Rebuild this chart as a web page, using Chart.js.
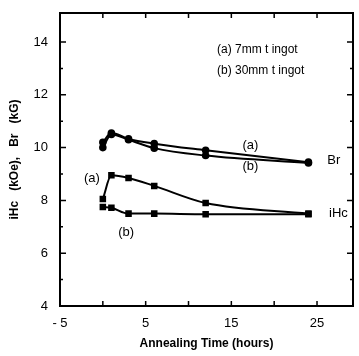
<!DOCTYPE html>
<html>
<head>
<meta charset="utf-8">
<script src="https://cdn.jsdelivr.net/npm/chart.js@4"></script>
<style>
  html, body { margin: 0; padding: 0; background: #fff; }
  #wrap { width: 359px; height: 356px; }
</style>
</head>
<body>
<div id="wrap"><canvas id="chart"></canvas></div>
<script>
const hours = [0, 1, 3, 6, 12, 24];
const brA = [10.2, 10.55, 10.33, 10.15, 9.9, 9.45];
const brB = [10.0, 10.5, 10.3, 9.98, 9.7, 9.42];
const ihcA = [8.05, 8.95, 8.85, 8.55, 7.9, 7.5];
const ihcB = [7.75, 7.72, 7.5, 7.5, 7.48, 7.48];
const xTicks = [-5, 5, 15, 25];
const yTicks = [4, 6, 8, 10, 12, 14];

function pts(ys) {
    return hours.map((h, i) => ({ x: h, y: ys[i] }));
}

function series(ys, shape) {
    return {
        data: pts(ys),
        borderColor: '#000',
        backgroundColor: '#000',
        borderWidth: 2,
        pointStyle: shape,
        pointRadius: shape === 'rect' ? 3.2 : 2.8,
        tension: 0.3,
        cubicInterpolationMode: 'monotone',
        fill: false,
    };
}

const font = "'Liberation Sans', Arial, sans-serif";

// box, inward ticks and the text notes
const frame = {
    id: 'frame',
    afterDraw(chart) {
        const c = chart.ctx;
        const a = chart.chartArea;
        const x = chart.scales.x, y = chart.scales.y;
        c.save();
        c.strokeStyle = '#000';
        c.lineWidth = 2;
        c.strokeRect(a.left, a.top, a.right - a.left, a.bottom - a.top);
        c.lineWidth = 1.5;
        for (let v = 0; v <= 25; v += 5) {
            const px = x.getPixelForValue(v);
            c.beginPath();
            c.moveTo(px, a.bottom); c.lineTo(px, a.bottom - 5);
            c.moveTo(px, a.top); c.lineTo(px, a.top + 5);
            c.stroke();
        }
        for (let v = 5; v < 15; v += 1) {
            const py = y.getPixelForValue(v);
            const len = v % 2 === 0 ? 6 : 3;
            c.beginPath();
            c.moveTo(a.left, py); c.lineTo(a.left + len, py);
            c.moveTo(a.right, py); c.lineTo(a.right - len, py);
            c.stroke();
        }
        c.fillStyle = '#000';
        c.font = '12px ' + font;
        c.textAlign = 'left';
        c.textBaseline = 'middle';
        c.fillText('(a) 7mm t ingot', 217, 50);
        c.fillText('(b) 30mm t ingot', 217, 71);
        c.font = '13px ' + font;
        c.fillText('(a)', x.getPixelForValue(16.3), y.getPixelForValue(10.1));
        c.fillText('(b)', x.getPixelForValue(16.3), y.getPixelForValue(9.3));
        c.fillText('Br', x.getPixelForValue(26.2), y.getPixelForValue(9.5));
        c.fillText('(a)', x.getPixelForValue(-2.2), y.getPixelForValue(8.85));
        c.fillText('(b)', x.getPixelForValue(1.8), y.getPixelForValue(6.8));
        c.fillText('iHc', x.getPixelForValue(26.4), y.getPixelForValue(7.52));
        c.restore();
    }
};

new Chart(document.getElementById('chart').getContext('2d'), {
    type: 'line',
    data: {
        datasets: [series(brA, 'circle'), series(brB, 'circle'), series(ihcA, 'rect'), series(ihcB, 'rect')]
    },
    options: {
        responsive: true,
        maintainAspectRatio: false,
        animation: false,
        layout: { padding: { top: 13, right: 5, left: 0, bottom: 0 } },
        plugins: { legend: { display: false }, tooltip: { enabled: false } },
        scales: {
            x: {
                type: 'linear',
                min: -5,
                max: 29.2,
                afterBuildTicks(s) { s.ticks = xTicks.map(v => ({ value: v })); },
                afterFit(s) { s.height = 50; },
                grid: { display: false },
                border: { display: false },
                ticks: {
                    color: '#000',
                    font: { family: font, size: 13 },
                    padding: 2,
                    maxRotation: 0,
                    callback: v => v < 0 ? '- ' + Math.abs(v) : String(v)
                },
                title: {
                    display: true,
                    text: 'Annealing Time (hours)',
                    color: '#000',
                    font: { family: font, size: 12, weight: 'bold' },
                    padding: { top: 0, bottom: 5 }
                }
            },
            y: {
                min: 4,
                max: 15.1,
                afterBuildTicks(s) { s.ticks = yTicks.map(v => ({ value: v })); },
                afterFit(s) { s.width = 60; },
                grid: { display: false },
                border: { display: false },
                ticks: {
                    color: '#000',
                    font: { family: font, size: 13 },
                    padding: 4
                },
                title: {
                    display: true,
                    text: 'iHc   (kOe),   Br   (kG)',
                    color: '#000',
                    font: { family: font, size: 12, weight: 'bold' },
                    padding: { top: 7, bottom: 0 }
                }
            }
        }
    },
    plugins: [frame]
});
</script>
</body>
</html>
